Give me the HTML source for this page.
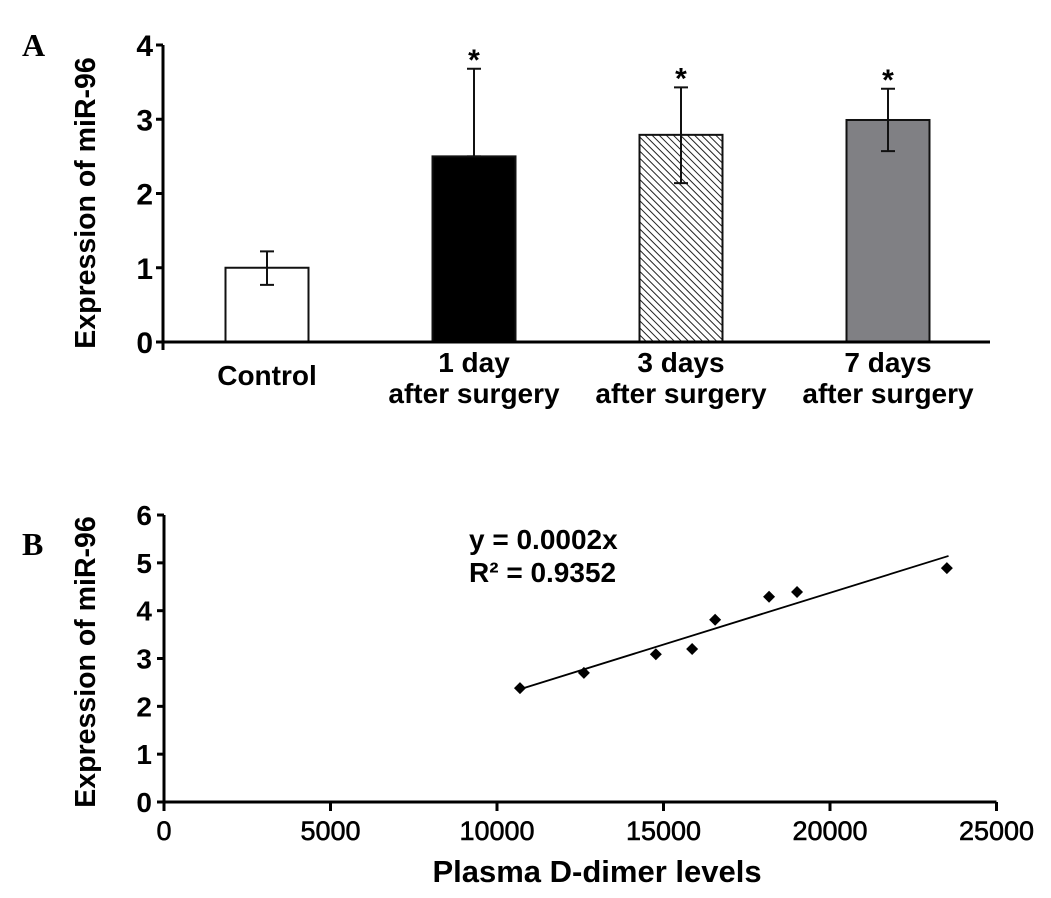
<!DOCTYPE html>
<html><head><meta charset="utf-8"><style>
html,body{margin:0;padding:0;background:#fff;}
svg{display:block;font-family:"Liberation Sans",Arial,sans-serif;}
</style></head><body>
<svg id="fig" width="1051" height="898" viewBox="0 0 1051 898">
<defs>
<pattern id="hatch" patternUnits="userSpaceOnUse" width="5" height="5" patternTransform="rotate(-45)">
<rect width="5" height="5" fill="#fff"/><line x1="0" y1="0" x2="0" y2="5" stroke="#222" stroke-width="2"/>
</pattern>
</defs>
<text x="22" y="56" font-family="Liberation Serif,serif" font-weight="bold" font-size="32">A</text>
<text x="22" y="555" font-family="Liberation Serif,serif" font-weight="bold" font-size="32">B</text>
<g id="chartA"></g>
<g id="chartB"></g>
</svg>
<script>
const NS='http://www.w3.org/2000/svg';
function mk(parent,tag,attrs,text){const e=document.createElementNS(NS,tag);for(const k in attrs)e.setAttribute(k,attrs[k]);if(text!==undefined)e.textContent=text;parent.appendChild(e);return e;}

// ---- Panel A data ----
const barCategories=[['Control'],['1 day','after surgery'],['3 days','after surgery'],['7 days','after surgery']];
const barValues=[1.0,2.5,2.79,2.99];
const barErrLow=[0.77,2.5,2.14,2.57];
const barErrHigh=[1.22,3.68,3.43,3.41];
const barSig=[false,true,true,true];
const yTicksA=[0,1,2,3,4];

// ---- Panel B data ----
const dimerX=[10690,12610,14770,15860,16550,18170,19010,23510];
const mirY=[2.38,2.70,3.09,3.20,3.81,4.29,4.39,4.89];
const xTicksB=[0,5000,10000,15000,20000,25000];
const yTicksB=[0,1,2,3,4,5,6];

(function(){
 const g=document.getElementById('chartA');
 const x0=163,y0=342,yUnit=74.25,step=207,firstC=267,bw=83;
 const ys=v=>y0-v*yUnit;
 const fills=['#fff','#000','url(#hatch)','#808084'];
 barValues.forEach((v,i)=>{
  const cx=firstC+i*step;
  const r=mk(g,'rect',{x:cx-bw/2,y:ys(v),width:bw,height:y0-ys(v),fill:fills[i%4],stroke:'#111','stroke-width':2});
  
  
  const eb=mk(g,'path',{d:`M${cx} ${ys(barErrLow[i])}V${ys(barErrHigh[i])}M${cx-7} ${ys(barErrHigh[i])}H${cx+7}M${cx-7} ${ys(barErrLow[i])}H${cx+7}`,stroke:'#111','stroke-width':2,fill:'none'});
  
  
  if(barSig[i]){
   const s=mk(g,'text',{x:cx,y:ys(barErrHigh[i])+1,'text-anchor':'middle','font-size':30,'font-weight':'bold'},'*');
   
   
  }
  const lines=barCategories[i];
  lines.forEach((t,j)=>{
   const yy=lines.length===1?385:372+j*31;
   const tl=mk(g,'text',{x:cx,y:yy,'text-anchor':'middle','font-size':28,'font-weight':'bold'},t);
   
   
  });
 });
 const ax=mk(g,'path',{d:`M${x0} 45V${y0+8}M${x0-7} ${y0}H990`,stroke:'#000','stroke-width':3,fill:'none'});
 
 
 yTicksA.forEach(t=>{
  mk(g,'line',{x1:x0-7,x2:x0,y1:ys(t),y2:ys(t),stroke:'#000','stroke-width':3});
  const tl=mk(g,'text',{x:x0-10,y:ys(t)+11,'text-anchor':'end','font-size':30,'font-weight':'bold'},t);
  
  
 });
 const yt=mk(g,'text',{transform:'translate(95,203) rotate(-90)','text-anchor':'middle','font-size':28.5,'font-weight':'bold'},'Expression of miR-96');
 
 
})();

(function(){
 const g=document.getElementById('chartB');
 const x0=164,y0=802,xPer=166.5/5000,yUnit=47.83;
 const xs=v=>x0+v*xPer, ys=v=>y0-v*yUnit;
 const ax=mk(g,'path',{d:`M${x0} 515V${y0+7}M${x0-7} ${y0}H${xs(25000)}`,stroke:'#000','stroke-width':3,fill:'none'});
 
 
 yTicksB.forEach(t=>{
  mk(g,'line',{x1:x0-7,x2:x0,y1:ys(t),y2:ys(t),stroke:'#000','stroke-width':3});
  const tl=mk(g,'text',{x:x0-12,y:ys(t)+10,'text-anchor':'end','font-size':28,'font-weight':'bold'},t);
  
  
 });
 xTicksB.forEach(t=>{
  mk(g,'line',{x1:xs(t),x2:xs(t),y1:y0,y2:y0+9,stroke:'#000','stroke-width':3});
  const tl=mk(g,'text',{x:xs(t),y:y0+38,'text-anchor':'middle','font-size':27,'stroke':'#000','stroke-width':0.6},t);
  
  
 });
 const n=dimerX.length;const mx=dimerX.reduce((a,b)=>a+b)/n,my=mirY.reduce((a,b)=>a+b)/n;
 let sxy=0,sxx=0;for(let i=0;i<n;i++){sxy+=(dimerX[i]-mx)*(mirY[i]-my);sxx+=(dimerX[i]-mx)**2;}
 const b=sxy/sxx,a=my-b*mx;const xa=Math.min(...dimerX),xb=Math.max(...dimerX)+50;
 const tr=mk(g,'line',{x1:xs(xa),y1:ys(a+b*xa),x2:xs(xb),y2:ys(a+b*xb),stroke:'#000','stroke-width':1.8});
 
 
 dimerX.forEach((xv,i)=>{
  const cx=xs(xv),cy=ys(mirY[i]);
  const p=mk(g,'path',{d:`M${cx} ${cy-6}L${cx+6} ${cy}L${cx} ${cy+6}L${cx-6} ${cy}Z`,fill:'#000'});
  
  
 });
 const e1=mk(g,'text',{x:469,y:549,'font-size':28,'font-weight':'bold'},'y = 0.0002x');
 
 
 const e2=mk(g,'text',{x:469,y:582,'font-size':28,'font-weight':'bold'},'R² = 0.9352');
 
 
 const xt=mk(g,'text',{x:597,y:882,'text-anchor':'middle','font-size':31,'font-weight':'bold'},'Plasma D-dimer levels');
 
 
 const yt=mk(g,'text',{transform:'translate(95,662) rotate(-90)','text-anchor':'middle','font-size':28.5,'font-weight':'bold'},'Expression of miR-96');
 
 
})();
</script>
</body></html>
